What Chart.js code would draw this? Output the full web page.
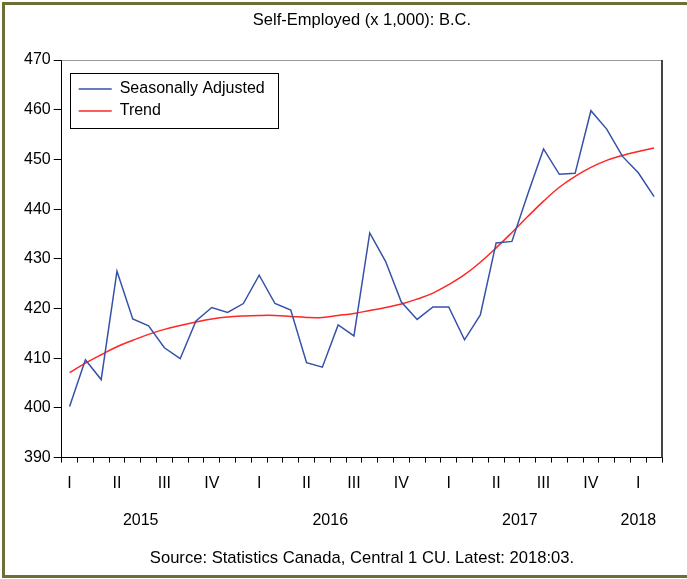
<!DOCTYPE html>
<html>
<head>
<meta charset="utf-8">
<script src="https://cdn.jsdelivr.net/npm/chart.js"></script>
<style>
  html, body { margin: 0; padding: 0; background: #fff; }
  #wrap { position: relative; width: 687px; height: 579px; overflow: hidden; }
  #frame { position: absolute; left: 2px; top: 2px; width: 720px; height: 576px; box-sizing: border-box;
           border-top: 3px solid #6f6f35; border-left: 3px solid #6f6f35; border-bottom: 3px solid #6f6f35; pointer-events: none; }
  .txt { position: absolute; left: 62px; width: 600px; text-align: center; color: #000;
         font-family: "Liberation Sans", Arial, sans-serif; white-space: nowrap; }
  #title { top: 10px; font-size: 16.5px; }
  #source { top: 548px; font-size: 16.6px; }
</style>
</head>
<body>
<div id="wrap">
  <canvas id="chart"></canvas>
  <div id="title" class="txt">Self-Employed (x 1,000): B.C.</div>
  <div id="source" class="txt">Source: Statistics Canada, Central 1 CU. Latest: 2018:03.</div>
  <div id="frame"></div>
</div>
<script>
// monthly, Jan 2015 .. Feb 2018
const months = ["2015-01","2015-02","2015-03","2015-04","2015-05","2015-06","2015-07","2015-08","2015-09","2015-10","2015-11","2015-12",
  "2016-01","2016-02","2016-03","2016-04","2016-05","2016-06","2016-07","2016-08","2016-09","2016-10","2016-11","2016-12",
  "2017-01","2017-02","2017-03","2017-04","2017-05","2017-06","2017-07","2017-08","2017-09","2017-10","2017-11","2017-12",
  "2018-01","2018-02"];
const quarterLabels = ["I", "II", "III", "IV"];
const yearLabels = ["2015", "2016", "2017", "2018"];
const yearTickPos = [4.5, 16.5, 28.5, 36];

const seasonallyAdjusted = [400.3, 409.7, 405.7, 427.5, 417.9, 416.5, 412.1, 409.9, 417.5, 420.2, 419.2, 421.0,
  426.7, 421.0, 419.7, 409.1, 408.2, 416.7, 414.5, 435.2, 429.5, 421.3, 417.8, 420.3,
  420.3, 413.7, 418.7, 433.2, 433.5, 443.0, 452.1, 447.0, 447.2, 459.8, 456.1, 450.6,
  447.3, 442.5];
const trend = [407.1, 409.0, 410.7, 412.3, 413.6, 414.8, 415.8, 416.6, 417.3, 417.9, 418.3, 418.5,
  418.6, 418.6, 418.4, 418.2, 418.2, 418.6, 419.0, 419.6, 420.2, 420.9, 421.9, 423.1,
  424.8, 426.8, 429.3, 432.2, 435.3, 438.5, 441.6, 444.4, 446.6, 448.4, 449.8, 450.8,
  451.6, 452.3];

const FONT = "'Liberation Sans', Arial, sans-serif";
const LEG_PAD = 6;

// box round the plot + frame round the legend
const framePlugin = {
  id: 'frames',
  afterLayout(chart) {
    const lg = chart.legend, ca = chart.chartArea;
    if (lg) { lg.left = ca.left + 11; lg.top = ca.top + 15; }
  },
  afterDraw(chart) {
    const ctx = chart.ctx, ca = chart.chartArea, lg = chart.legend;
    ctx.save();
    ctx.lineWidth = 1;
    ctx.strokeStyle = '#999';
    ctx.beginPath(); ctx.moveTo(ca.left, ca.top + 0.5); ctx.lineTo(ca.right, ca.top + 0.5); ctx.stroke();
    ctx.lineWidth = 2;
    ctx.strokeStyle = '#444';
    ctx.beginPath(); ctx.moveTo(ca.right, ca.top); ctx.lineTo(ca.right, ca.bottom); ctx.stroke();

    // legend frame
    const lo = lg.options.labels;
    ctx.font = '16px ' + FONT;
    let w = 0;
    lg.legendItems.forEach(it => { w = Math.max(w, ctx.measureText(it.text).width); });
    const x0 = lg.left + LEG_PAD, y0 = lg.top + LEG_PAD;
    const l = x0 - 9, t = y0 - 8;
    const r = x0 + lo.boxWidth + 8 + w + 13;
    const b = y0 + (lg.legendItems.length - 1) * (16 + LEG_PAD) + 25;
    ctx.lineWidth = 1;
    ctx.strokeStyle = '#000';
    ctx.strokeRect(Math.round(l) + 0.5, Math.round(t) + 0.5, Math.round(r - l), Math.round(b - t));
    ctx.restore();
  }
};

const ctx = document.getElementById('chart').getContext('2d');
const chart = new Chart(ctx, {
  type: 'line',
  data: {
    labels: months,
    datasets: [
      {
        label: 'Seasonally Adjusted',
        data: seasonallyAdjusted,
        borderColor: '#3552a8',
        backgroundColor: '#3552a8',
        borderWidth: 1.5,
        pointRadius: 0,
        tension: 0
      },
      {
        label: 'Trend',
        data: trend,
        borderColor: '#ff2626',
        backgroundColor: '#ff2626',
        borderWidth: 1.5,
        pointRadius: 0,
        tension: 0.4
      }
    ]
  },
  options: {
    responsive: true,
    maintainAspectRatio: false,
    animation: false,
    layout: { padding: { left: 21, right: 25, top: 60, bottom: 42 } },
    plugins: {
      title: { display: false },
      tooltip: { enabled: false },
      legend: {
        position: 'chartArea',
        align: 'start',
        labels: {
          usePointStyle: true,
          pointStyle: 'line',
          pointStyleWidth: 33,
          boxWidth: 33,
          padding: LEG_PAD,
          color: '#000',
          font: { family: FONT, size: 16 }
        }
      }
    },
    scales: {
      x: {
        offset: true,
        weight: 0,
        grid: { offset: true, drawOnChartArea: false, tickLength: 5, color: '#000' },
        border: { color: '#000', width: 1 },
        ticks: {
          autoSkip: false,
          maxRotation: 0,
          padding: 11,
          color: '#000',
          font: { family: FONT, size: 16 },
          callback: (v, i) => (i % 3 === 0 ? quarterLabels[(i / 3) % 4] : '')
        }
      },
      x2: {
        type: 'linear',
        position: 'bottom',
        weight: 1,
        min: -0.5,
        max: months.length - 0.5,
        grid: { display: false, drawTicks: false },
        border: { display: false },
        afterBuildTicks: axis => { axis.ticks = yearTickPos.map(v => ({ value: v })); },
        ticks: {
          autoSkip: false,
          maxRotation: 0,
          padding: 7,
          color: '#000',
          font: { family: FONT, size: 16 },
          callback: v => yearLabels[yearTickPos.indexOf(v)]
        }
      },
      y: {
        min: 390,
        max: 470,
        grid: { drawOnChartArea: false, tickLength: 8, color: '#000' },
        border: { color: '#000', width: 1 },
        ticks: {
          stepSize: 10,
          padding: 3,
          color: '#000',
          font: { family: FONT, size: 16 }
        }
      }
    }
  },
  plugins: [framePlugin]
});
</script>
</body>
</html>
